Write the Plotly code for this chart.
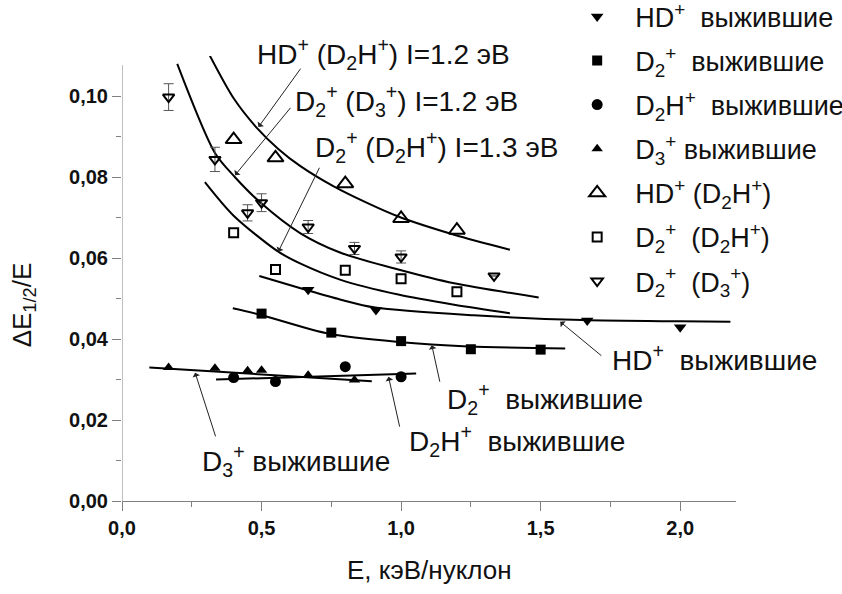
import plotly.graph_objects as go

# ---- data ----
hd_surv_x = [0.667, 0.91, 1.667, 2.0]
hd_surv_y = [0.0522, 0.0472, 0.0446, 0.0429]

d2_surv_x = [0.5, 0.75, 1.0, 1.25, 1.5]
d2_surv_y = [0.0463, 0.0416, 0.0395, 0.0375, 0.0374]

d2h_surv_x = [0.4, 0.55, 0.8, 1.0]
d2h_surv_y = [0.0305, 0.0295, 0.0332, 0.0307]

d3_surv_x = [0.167, 0.333, 0.45, 0.5, 0.667, 0.833]
d3_surv_y = [0.0330, 0.0328, 0.0322, 0.0323, 0.0311, 0.0299]

hd_d2h_x = [0.4, 0.55, 0.8, 1.0, 1.2]
hd_d2h_y = [0.0893, 0.0848, 0.0784, 0.0698, 0.0669]

d2_d2h_x = [0.4, 0.55, 0.8, 1.0, 1.2]
d2_d2h_y = [0.0663, 0.0572, 0.0570, 0.0549, 0.0517]

d2_d3_x = [0.167, 0.333, 0.45, 0.5, 0.667, 0.833, 1.0, 1.333]
d2_d3_y = [0.0998, 0.0844, 0.0712, 0.0737, 0.0677, 0.0624, 0.0603, 0.0556]
d2_d3_err = [0.0033, 0.0030, 0.0020, 0.0022, 0.0016, 0.0015, 0.0015, 0.0]

# fitted curves
fit_hd_d2h_x = [0.315, 0.40, 0.483, 0.56, 0.638, 0.757, 0.88, 0.99, 1.19, 1.39]
fit_hd_d2h_y = [0.1100, 0.0995, 0.0922, 0.0870, 0.0828, 0.0778, 0.0736, 0.0703, 0.0658, 0.0621]

fit_d2_d3_x = [0.198, 0.333, 0.405, 0.495, 0.638, 0.781, 0.99, 1.19, 1.493]
fit_d2_d3_y = [0.1080, 0.0860, 0.0800, 0.0738, 0.0662, 0.0614, 0.0572, 0.0538, 0.0503]

fit_d2_d2h_x = [0.297, 0.40, 0.56, 0.638, 0.781, 0.99, 1.19, 1.39]
fit_d2_d2h_y = [0.0788, 0.0705, 0.0616, 0.0587, 0.0547, 0.0510, 0.0485, 0.0464]

fit_hd_surv_x = [0.492, 0.658, 0.781, 0.907, 1.26, 1.65, 2.0, 2.18]
fit_hd_surv_y = [0.0556, 0.0522, 0.0498, 0.0478, 0.0459, 0.0447, 0.0444, 0.0443]

fit_d2_surv_x = [0.397, 0.495, 0.742, 0.99, 1.24, 1.588]
fit_d2_surv_y = [0.0476, 0.0460, 0.0413, 0.0393, 0.0382, 0.0377]

fit_d3_surv_x = [0.098, 0.895]
fit_d3_surv_y = [0.0330, 0.0296]

fit_d2h_surv_x = [0.337, 1.054]
fit_d2h_surv_y = [0.0300, 0.0315]

FONT = "Liberation Sans, Arial, sans-serif"
BLACK = "#000000"
Y_TOP = 0.10995

fig = go.Figure()

# fitted curves
for fx, fy, shape in [
    (fit_hd_d2h_x, fit_hd_d2h_y, "spline"),
    (fit_d2_d3_x, fit_d2_d3_y, "spline"),
    (fit_d2_d2h_x, fit_d2_d2h_y, "spline"),
    (fit_hd_surv_x, fit_hd_surv_y, "spline"),
    (fit_d2_surv_x, fit_d2_surv_y, "spline"),
    (fit_d3_surv_x, fit_d3_surv_y, "linear"),
    (fit_d2h_surv_x, fit_d2h_surv_y, "linear"),
]:
    fig.add_trace(go.Scatter(x=fx, y=fy, mode="lines", showlegend=False,
                             hoverinfo="skip",
                             line=dict(color=BLACK, width=2, shape=shape, smoothing=0.8)))

# data series
series = [
    (hd_surv_x, hd_surv_y, "triangle-down", 11, "HD<sup>+</sup>  выжившие", None),
    (d2_surv_x, d2_surv_y, "square", 10, "D<sub>2</sub><sup>+</sup>  выжившие", None),
    (d2h_surv_x, d2h_surv_y, "circle", 11, "D<sub>2</sub>H<sup>+</sup>  выжившие", None),
    (d3_surv_x, d3_surv_y, "triangle-up", 10, "D<sub>3</sub><sup>+</sup> выжившие", None),
    (hd_d2h_x, hd_d2h_y, "triangle-up-open", 14, "HD<sup>+</sup> (D<sub>2</sub>H<sup>+</sup>)", None),
    (d2_d2h_x, d2_d2h_y, "square-open", 9, "D<sub>2</sub><sup>+</sup>  (D<sub>2</sub>H<sup>+</sup>)", None),
    (d2_d3_x, d2_d3_y, "triangle-down-open", 10, "D<sub>2</sub><sup>+</sup>  (D<sub>3</sub><sup>+</sup>)", d2_d3_err),
]
for i, (sx, sy, sym, size, name, err) in enumerate(series):
    kw = {}
    if err is not None:
        kw["error_y"] = dict(type="data", array=err, visible=True,
                             color="#555555", thickness=1, width=5)
    fig.add_trace(go.Scatter(
        x=sx, y=sy, mode="markers", name=name, legendgroup=f"g{i}",
        marker=dict(symbol=sym, size=size, color=BLACK,
                    line=dict(color=BLACK, width=2 if "open" in sym else 0)),
        **kw))

# axis line for y (stops below the top of the plotting range)
fig.add_shape(type="line", xref="x", yref="y", x0=0, x1=0, y0=0, y1=0.1077,
              line=dict(color="#808080", width=1))

# annotations: texts (x in data units, y in data units -> converted to paper)
txt = [
    (0.477, 0.1104, "HD<sup>+</sup> (D<sub>2</sub>H<sup>+</sup>) I=1.2 эВ"),
    (0.613, 0.0988, "D<sub>2</sub><sup>+</sup> (D<sub>3</sub><sup>+</sup>) I=1.2 эВ"),
    (0.685, 0.0874, "D<sub>2</sub><sup>+</sup> (D<sub>2</sub>H<sup>+</sup>) I=1.3 эВ"),
    (1.749, 0.0353, "HD<sup>+</sup>  выжившие"),
    (1.158, 0.0252, "D<sub>2</sub><sup>+</sup>  выжившие"),
    (1.022, 0.0148, "D<sub>2</sub>H<sup>+</sup>  выжившие"),
    (0.280, 0.0099, "D<sub>3</sub><sup>+</sup> выжившие"),
]
for x, y, t in txt:
    fig.add_annotation(x=x, y=y / Y_TOP, xref="x", yref="paper", text=t,
                       showarrow=False, xanchor="left", yanchor="middle",
                       font=dict(family=FONT, size=28, color="#111111"))

# annotations: arrows (tip x,y ; tail ax,ay)
arrows = [
    (0.489, 0.0924, 0.644, 0.1072),
    (0.405, 0.0805, 0.608, 0.0975),
    (0.560, 0.0616, 0.710, 0.0827),
    (1.570, 0.0443, 1.723, 0.0356),
    (1.110, 0.0385, 1.140, 0.0291),
    (0.955, 0.0307, 0.996, 0.0180),
    (0.262, 0.0317, 0.337, 0.0156),
]
for x, y, ax, ay in arrows:
    fig.add_annotation(x=x, y=y, ax=ax, ay=ay, xref="x", yref="y",
                       axref="x", ayref="y", text="", showarrow=True,
                       arrowhead=1, arrowsize=1.3, arrowwidth=1,
                       arrowcolor="#222222", standoff=0)

# axis titles
fig.add_annotation(xref="paper", yref="paper", x=0.5, y=-0.155,
                   text="E, кэВ/нуклон", showarrow=False,
                   xanchor="center", yanchor="middle",
                   font=dict(family=FONT, size=26, color="#111111"))
fig.add_annotation(xref="paper", yref="paper", x=-0.161, y=0.44,
                   text="ΔE<sub>1/2</sub>/E", showarrow=False, textangle=-90,
                   xanchor="center", yanchor="middle",
                   font=dict(family=FONT, size=26, color="#111111"))

fig.update_layout(
    width=842, height=594,
    margin=dict(l=122, r=106, t=56, b=93, autoexpand=False),
    paper_bgcolor="white", plot_bgcolor="white",
    separators=", ",
    font=dict(family=FONT, color="#111111"),
    showlegend=True,
    legend=dict(x=0.712, y=1.143, xanchor="left", yanchor="top",
                bgcolor="rgba(0,0,0,0)", font=dict(family=FONT, size=27),
                itemwidth=66, tracegroupgap=6, maxheight=1),
    xaxis=dict(range=[0, 2.2], showgrid=False, zeroline=False,
               showline=True, linecolor="#808080", linewidth=1,
               tickmode="array", tickvals=[0, 0.5, 1.0, 1.5, 2.0],
               tickformat=".1f", ticks="outside", ticklen=9, tickcolor="#808080",
               minor=dict(ticks="outside", ticklen=5, dtick=0.25, tick0=0,
                          tickcolor="#808080"),
               tickfont=dict(family=FONT, size=20, color="#111111", weight="bold")),
    yaxis=dict(range=[0, Y_TOP], showgrid=False, zeroline=False,
               showline=False,
               tickmode="array", tickvals=[0, 0.02, 0.04, 0.06, 0.08, 0.10],
               tickformat=".2f", ticks="outside", ticklen=9, tickcolor="#808080",
               minor=dict(ticks="outside", ticklen=5, dtick=0.01, tick0=0,
                          tickcolor="#808080"),
               tickfont=dict(family=FONT, size=20, color="#111111", weight="bold")),
)

fig.write_html("out.html")
